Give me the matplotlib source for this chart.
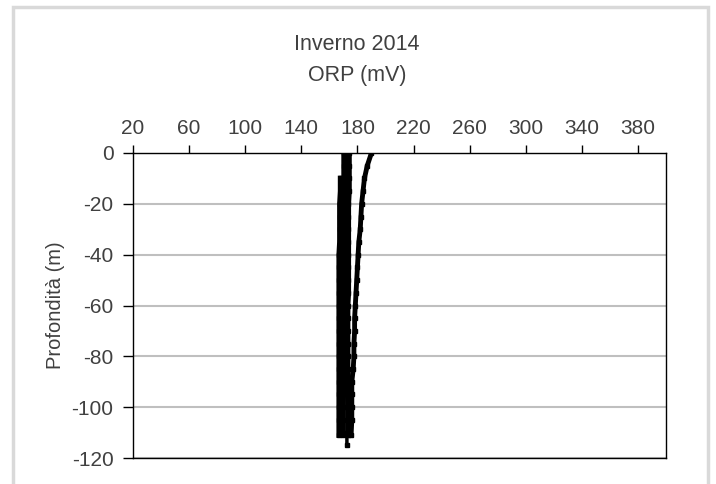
import matplotlib
matplotlib.use("Agg")
import matplotlib.pyplot as plt
import numpy as np
from matplotlib.patches import Rectangle

nan = np.nan

# depth of each sample (m)
depth = [0, -5, -10, -15, -20, -25, -30, -35, -40, -45, -50, -55,
         -60, -65, -70, -75, -80, -85, -90, -95, -100, -105, -111]

# ORP profiles (mV), one per station
orp_a = [nan, nan, 168.0, 168.0, 167.5, 167.5, 167.5, 167.5, 167.0, 167.0, 167.0, 167.0,
         167.0, 167.0, 167.0, 167.0, 167.0, 167.0, 167.0, 167.0, 167.0, 167.0, 167.0]
orp_b = [170.5, 170.5, 170.5, 170.0, 170.0, 170.0, 170.0, 170.0, 170.0, 169.5, 169.5, 169.5,
         169.5, 169.5, 169.5, 169.5, 169.5, 169.5, 169.5, 169.5, 169.5, 169.5, 169.5]
orp_c = [174.0, 174.0, 174.0, 174.0, 173.5, 173.5, 173.5, 173.5, 173.5, 173.5, 173.5, 173.5,
         173.0, 173.0, 173.0, 173.0, 173.0, 173.0, 173.5, 173.5, 173.5, 173.5, 173.5]
orp_d = [190.0, 187.0, 185.0, 184.0, 183.0, 182.5, 182.0, 181.0, 180.5, 180.0, 179.5, 179.0,
         178.5, 178.0, 178.0, 177.5, 177.5, 177.0, 176.0, 176.0, 176.0, 176.0, 175.5]
depth_e = [0, -20, -40, -60, -80, -100, -110, -115]
orp_e = [172.0, 172.0, 172.0, 172.0, 172.0, 172.5, 172.5, 172.5]

xticks = [20, 60, 100, 140, 180, 220, 260, 300, 340, 380]
yticks = [0, -20, -40, -60, -80, -100, -120]

fonts = ['Liberation Sans Narrow', 'Liberation Sans', 'DejaVu Sans']
txt_col = '#404040'

fig = plt.figure(figsize=(7.16, 4.84), dpi=100)
ax = fig.add_axes([133/716, 1 - 458/484, (666 - 133)/716, (458 - 153)/484])

for prof in [orp_a, orp_b, orp_c]:
    ax.plot(prof, depth, color='black', lw=4, marker='s', ms=3.5, zorder=3)
ax.plot(orp_d, depth, color='black', lw=3.5, marker='s', ms=3.5, zorder=3)
ax.plot(orp_e, depth_e, color='black', lw=2.5, marker='s', ms=3, zorder=3)

ax.set_xlim(20, 400)
ax.set_ylim(-120, 0)
ax.xaxis.tick_top()
ax.set_xticks(xticks)
ax.set_yticks(yticks)
ax.set_xticklabels([str(v) for v in xticks], family=fonts, fontsize=15, color=txt_col)
ax.set_yticklabels([str(v) for v in yticks], family=fonts, fontsize=15, color=txt_col)
ax.tick_params(axis='x', direction='out', length=6, width=1, pad=5)
ax.tick_params(axis='y', direction='out', length=7, width=1, pad=7)
ax.yaxis.grid(True, color='#bfbfbf', lw=1.5)
ax.set_axisbelow(True)
for s in ax.spines.values():
    s.set_color('black')
    s.set_linewidth(1)

ax.set_ylabel('Profondità (m)', family=fonts, fontsize=14.5, color=txt_col, labelpad=5)

fig.text(357/716, 1 - 45/484, 'Inverno 2014', family=fonts, fontsize=15.5,
         color=txt_col, ha='center', va='center')
fig.text(357/716, 1 - 75/484, 'ORP (mV)', family=fonts, fontsize=15.5,
         color=txt_col, ha='center', va='center')

# outer chart frame
fig.patches.append(Rectangle((13/716, -0.1), (708 - 13)/716, 1.1 - 7/484,
                             transform=fig.transFigure, fill=False,
                             edgecolor='#d9d9d9', lw=2.5, clip_on=False))

fig.savefig('out.png', dpi=100)
